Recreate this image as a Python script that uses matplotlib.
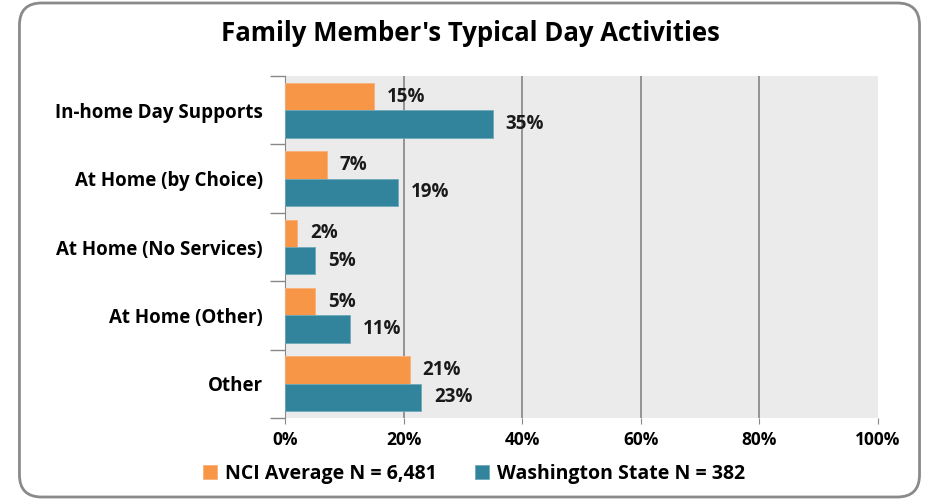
import matplotlib
matplotlib.use("Agg")
import matplotlib.pyplot as plt
from matplotlib.patches import FancyBboxPatch
import numpy as np

categories = ["In-home Day Supports", "At Home (by Choice)", "At Home (No Services)",
              "At Home (Other)", "Other"]
nci_values = [15, 7, 2, 5, 21]
wa_values = [35, 19, 5, 11, 23]
series_names = ["NCI Average N = 6,481", "Washington State N = 382"]
x_ticks = [0, 20, 40, 60, 80, 100]

plt.rcParams['font.family'] = ['Open Sans', 'DejaVu Sans']
plt.rcParams['font.weight'] = 'bold'

orange = "#F79646"
teal = "#31849B"

fig = plt.figure(figsize=(9.26, 4.99), dpi=100)
ax = fig.add_axes([0.3078, 0.1623, 0.6404, 0.6854])
ax.set_facecolor("#EBEBEB")

n = len(categories)
y = np.arange(n)
h = 0.4
ax.barh(y - h / 2, nci_values, height=h, color=orange, edgecolor="#F9B07A", linewidth=0.6,
        label=series_names[0], zorder=3)
ax.barh(y + h / 2, wa_values, height=h, color=teal, edgecolor="#6FA9BA", linewidth=0.6,
        label=series_names[1], zorder=3)

for yi, v in zip(y, nci_values):
    ax.text(v + 2.2, yi - h / 2, f"{v}%", va="center", ha="left", fontsize=13.5,
            fontweight="bold", color="#1a1a1a", zorder=4)
for yi, v in zip(y, wa_values):
    ax.text(v + 2.2, yi + h / 2, f"{v}%", va="center", ha="left", fontsize=13.5,
            fontweight="bold", color="#1a1a1a", zorder=4)

ax.set_ylim(n - 0.5, -0.5)
ax.set_xlim(0, 100)
ax.set_yticks(y)
ax.set_yticklabels(categories, fontsize=13.5, fontweight="bold")
ax.set_yticks(np.arange(n + 1) - 0.5, minor=True)
ax.tick_params(axis="y", which="major", length=0, pad=16)
ax.tick_params(axis="y", which="minor", length=11, color="#888888", width=1)
ax.set_xticks(x_ticks)
ax.set_xticklabels([f"{t}%" for t in x_ticks], fontsize=12.5, fontweight="bold")
ax.tick_params(axis="x", length=4, color="#888888", pad=5)
for t in x_ticks[1:-1]:
    ax.axvline(t, color="#8c8c8c", linewidth=1.3, zorder=1)
for s in ["top", "right", "bottom"]:
    ax.spines[s].set_visible(False)
ax.spines["left"].set_color("#888888")

fig.text(0.508, 0.932, "Family Member's Typical Day Activities", ha="center", va="center",
         fontsize=18.5, fontweight="bold")

leg = fig.legend(loc="center", bbox_to_anchor=(0.512, 0.05), ncol=2, frameon=False,
                 handlelength=0.7, handleheight=0.7, columnspacing=2.0,
                 handletextpad=0.4, prop={'weight': 'bold', 'size': 14})

border = FancyBboxPatch((0.021, 0.004), 0.972, 0.99, boxstyle="round,pad=0,rounding_size=0.024",
                        transform=fig.transFigure, fill=False, edgecolor="#8a8a8a",
                        linewidth=2, mutation_aspect=926 / 499)
fig.patches.append(border)

fig.savefig("out.png", dpi=100)
